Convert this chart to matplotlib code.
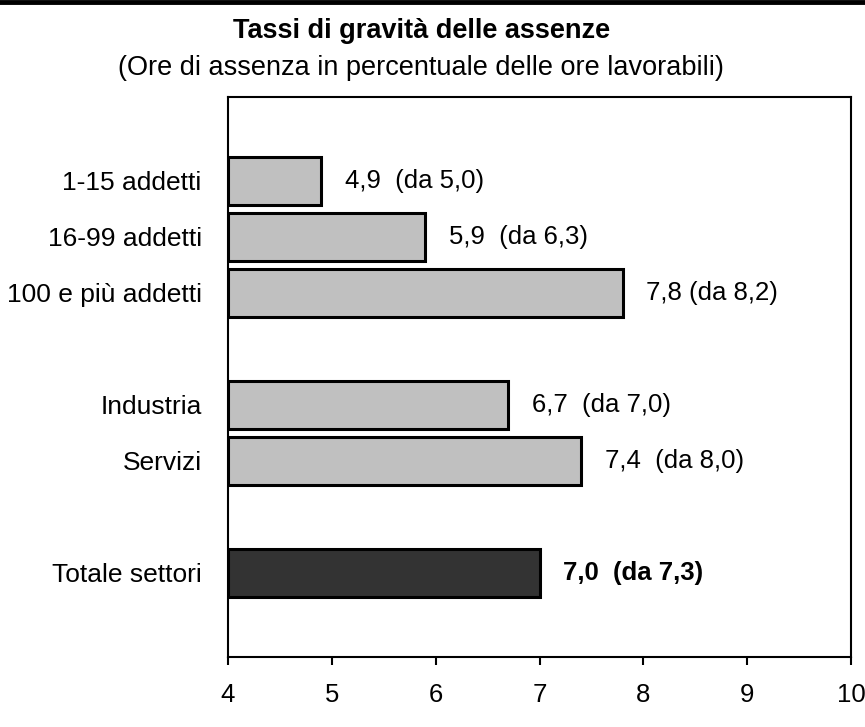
import matplotlib
matplotlib.use('Agg')
import matplotlib.pyplot as plt
from matplotlib.lines import Line2D

plt.rcParams['font.family'] = ['Liberation Sans', 'DejaVu Sans']

# dati
categorie = ['1-15 addetti', '16-99 addetti', '100 e più addetti',
             'Industria', 'Servizi', 'Totale settori']
posizioni = [0, 1, 2, 4, 5, 7]
valori = [4.9, 5.9, 7.8, 6.7, 7.4, 7.0]
etichette = ['4,9  (da 5,0)', '5,9  (da 6,3)', '7,8 (da 8,2)',
             '6,7  (da 7,0)', '7,4  (da 8,0)', '7,0  (da 7,3)']
colori = ['#c0c0c0'] * 5 + ['#333333']
xticks = [4, 5, 6, 7, 8, 9, 10]

fig = plt.figure(figsize=(8.65, 7.27), dpi=100)
ax = fig.add_axes([0.2636, 0.0963, 0.7202, 0.7703])

base = 4
ax.barh(posizioni, [v - base for v in valori], left=base, height=0.84,
        color=colori, edgecolor='black', linewidth=2.2, zorder=3)

# etichette dei valori
for i, (p, v, t) in enumerate(zip(posizioni, valori, etichette)):
    peso = 'bold' if i == len(valori) - 1 else 'normal'
    ax.annotate(t, xy=(v, p), xytext=(17, 0), textcoords='offset points',
                va='center', ha='left', fontsize=18.5, fontweight=peso)

ax.set_xlim(4, 10)
ax.set_ylim(8.5, -1.5)
ax.set_xticks(xticks)
ax.set_xticklabels([str(x) for x in xticks], fontsize=18.5)
ax.set_yticks(posizioni)
ax.set_yticklabels(categorie, fontsize=19)
ax.tick_params(axis='y', length=0, pad=19)
ax.tick_params(axis='x', direction='out', length=6, width=1.5, pad=13)
for s in ax.spines.values():
    s.set_linewidth(1.5)

fig.text(0.487, 0.958, 'Tassi di gravità delle assenze', ha='center',
         va='center', fontsize=19.5, fontweight='bold')
fig.text(0.487, 0.906, '(Ore di assenza in percentuale delle ore lavorabili)',
         ha='center', va='center', fontsize=19.5)

# linea nera in alto
fig.add_artist(Line2D([0, 1], [0.9975, 0.9975], color='black', linewidth=3.5,
                      transform=fig.transFigure))

fig.savefig('out.png', dpi=100)
